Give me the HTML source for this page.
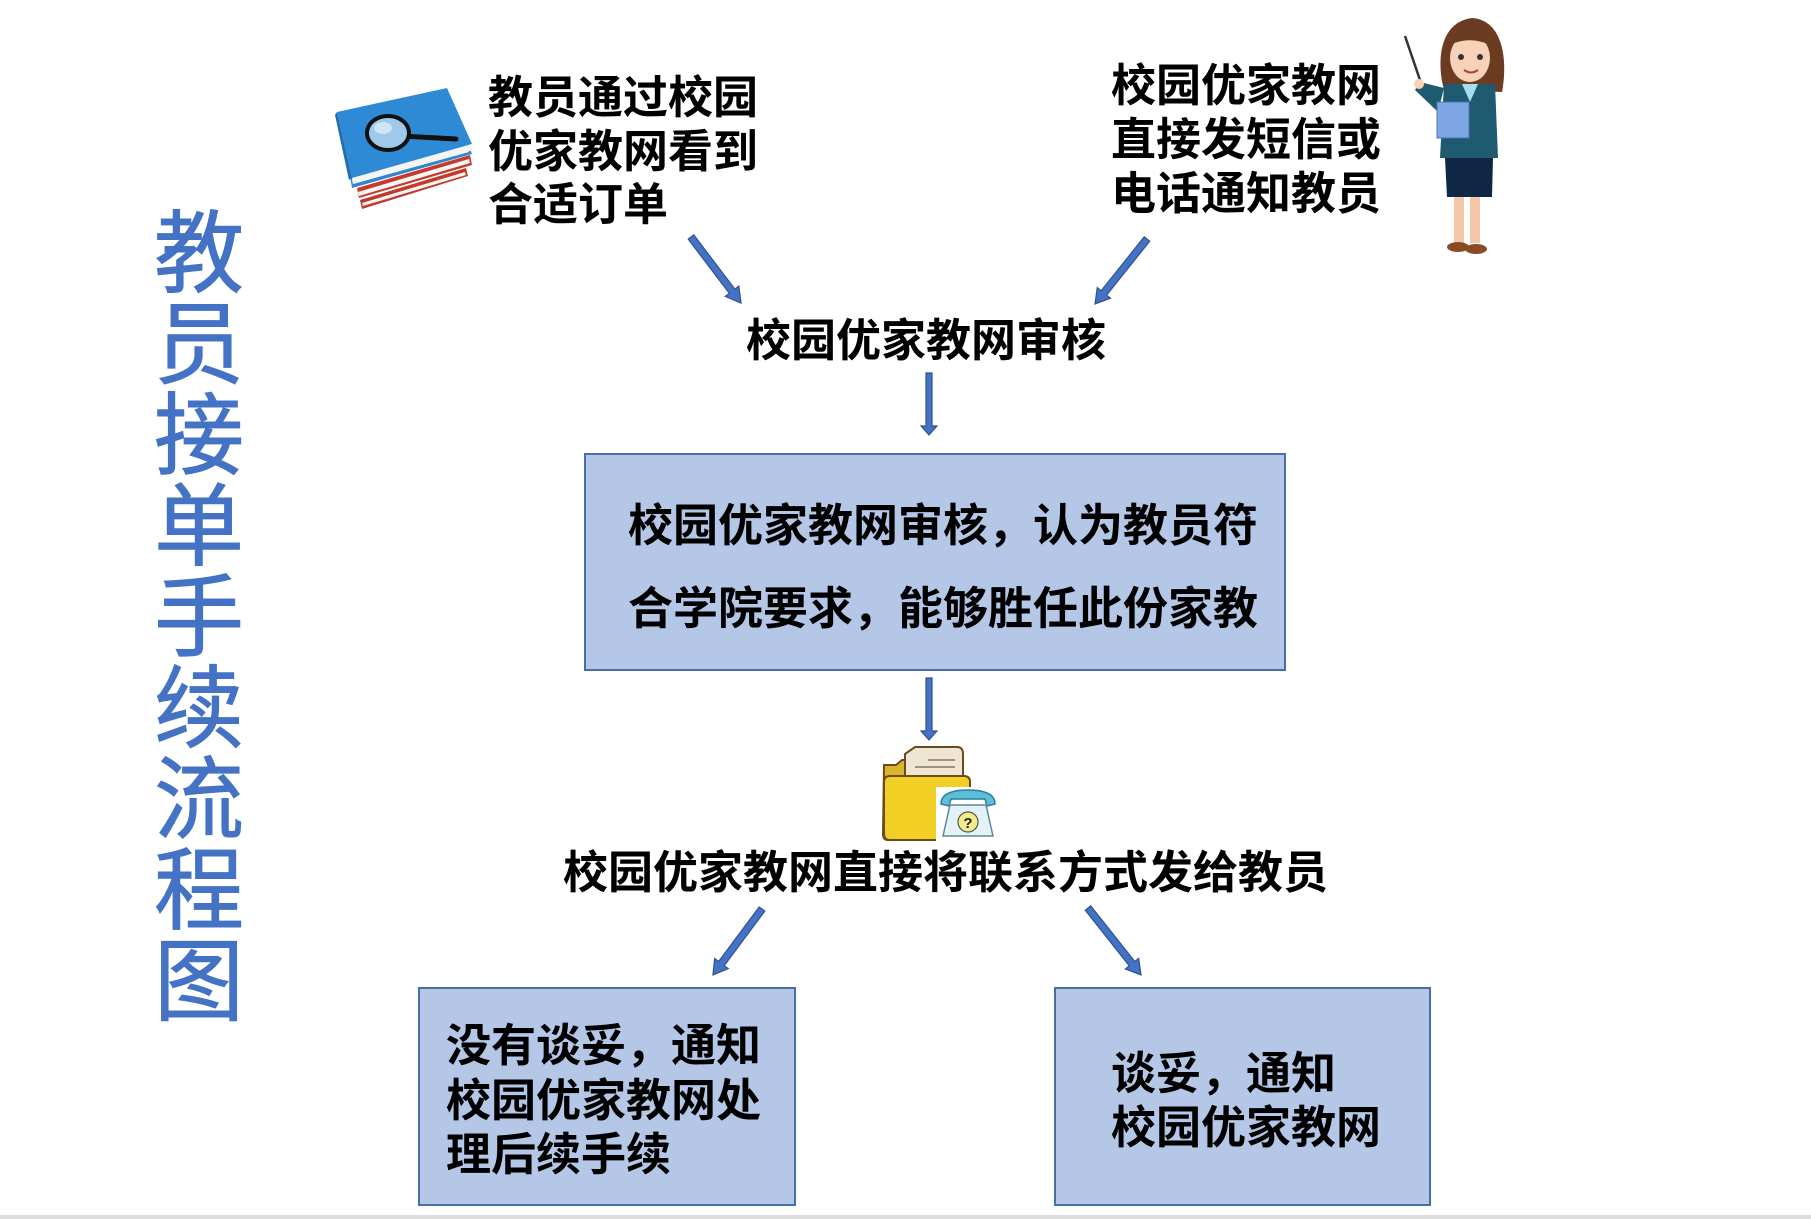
<!DOCTYPE html>
<html>
<head>
<meta charset="utf-8">
<style>
  html, body { margin:0; padding:0; background:#ffffff; }
  body { width:1811px; height:1219px; position:relative; overflow:hidden; }
  .t { position:absolute; white-space:nowrap; color:#000;
       font-family:"Liberation Sans","Noto Sans CJK SC","WenQuanYi Zen Hei",sans-serif;
       font-weight:bold; font-size:45px; line-height:54px; }
  .box { position:absolute; background:#b4c7e7; border:2.5px solid #4a6ea8; box-sizing:border-box; }
  .title { position:absolute; left:153px; top:210px; width:92px; text-align:center;
       color:#4472c4; font-family:"Liberation Sans","Noto Sans CJK SC",sans-serif;
       font-size:90px; line-height:91px; font-weight:normal;
       -webkit-text-stroke:1px #4472c4; }
  svg { position:absolute; left:0; top:0; }
</style>
</head>
<body>

<div class="title">教<br>员<br>接<br>单<br>手<br>续<br>流<br>程<br>图</div>

<div class="box" style="left:584px; top:453px; width:702px; height:218px;"></div>
<div class="box" style="left:418px; top:987px; width:378px; height:219px;"></div>
<div class="box" style="left:1054px; top:987px; width:377px; height:219px;"></div>

<div class="t" style="left:488px; top:71px; line-height:53.5px;">教员通过校园<br>优家教网看到<br>合适订单</div>
<div class="t" style="left:1111px; top:59px;">校园优家教网<br>直接发短信或<br>电话通知教员</div>
<div class="t" style="left:746px; top:314px;">校园优家教网审核</div>
<div class="t" style="left:628px; top:484px; line-height:83px;">校园优家教网审核，认为教员符<br>合学院要求，能够胜任此份家教</div>
<div class="t" style="left:563px; top:846px;">校园优家教网直接将联系方式发给教员</div>
<div class="t" style="left:446px; top:1019px; line-height:54.5px;">没有谈妥，通知<br>校园优家教网处<br>理后续手续</div>
<div class="t" style="left:1111px; top:1047px;">谈妥，通知<br>校园优家教网</div>

<svg width="1811" height="1219" viewBox="0 0 1811 1219" xmlns="http://www.w3.org/2000/svg">
  <!-- arrows -->
  <g fill="#4472c4" stroke="#2f528f" stroke-width="1.2" stroke-linejoin="miter">
    <g transform="translate(691,237) rotate(52.85)">
      <polygon points="0,-3.5 68,-3.5 68,-8.5 82.8,0 68,8.5 68,3.5 0,3.5"/>
    </g>
    <g transform="translate(1147,239) rotate(128.66)">
      <polygon points="0,-3.5 69,-3.5 69,-8.5 83.2,0 69,8.5 69,3.5 0,3.5"/>
    </g>
    <g transform="translate(929,373) rotate(90)">
      <polygon points="0,-3 53,-3 53,-8 62,0 53,8 53,3 0,3"/>
    </g>
    <g transform="translate(929,678) rotate(90)">
      <polygon points="0,-3 53,-3 53,-8 62,0 53,8 53,3 0,3"/>
    </g>
    <g transform="translate(762,909) rotate(126.6)">
      <polygon points="0,-3.5 68,-3.5 68,-8.5 82.2,0 68,8.5 68,3.5 0,3.5"/>
    </g>
    <g transform="translate(1088,908) rotate(51.66)">
      <polygon points="0,-3.5 71,-3.5 71,-8.5 85.4,0 71,8.5 71,3.5 0,3.5"/>
    </g>
  </g>

  <!-- book stack icon -->
  <g>
    <polygon points="360,200 466,168 468,176 362,209" fill="#c0392b"/>
    <polygon points="362,203 465,172 466,175 363,206" fill="#f4f4f4"/>
    <polygon points="357,188 470,155 472,165 359,198" fill="#c63a2e"/>
    <polygon points="358,192 469,159 470,163 359,196" fill="#f6f6f6"/>
    <polygon points="350,176 468,144 472,154 352,188" fill="#2f86cf"/>
    <polygon points="352,180 467,148 469,152 353,184" fill="#f8f8f8"/>
    <polygon points="337,112 447,88 472,144 352,178" fill="#2f8ad6"/>
    <polygon points="352,178 472,144 473,150 353,184" fill="#f5f5f5"/>
    <polygon points="337,112 352,178 349,180 335,115" fill="#1f6eb3"/>
    <line x1="401" y1="136" x2="456" y2="139" stroke="#111" stroke-width="5" stroke-linecap="round"/>
    <ellipse cx="388" cy="133" rx="21" ry="17" fill="#9fc9ea" stroke="#111" stroke-width="4"/>
    <ellipse cx="383" cy="128" rx="9" ry="6" fill="#cfe6f7"/>
  </g>

  <!-- teacher -->
  <g>
    <line x1="1405" y1="36" x2="1421" y2="83" stroke="#333" stroke-width="2.5"/>
    <path d="M1444,90 C1436,60 1440,22 1472,18 C1503,20 1508,60 1502,92 Z" fill="#6b3b22"/>
    <ellipse cx="1470" cy="58" rx="20" ry="24" fill="#f6d2b8"/>
    <path d="M1448,46 C1455,28 1488,26 1495,48 C1480,38 1462,38 1448,46 Z" fill="#6b3b22"/>
    <circle cx="1461" cy="57" r="3" fill="#333"/>
    <circle cx="1480" cy="57" r="3" fill="#333"/>
    <path d="M1464,70 Q1471,75 1478,70" stroke="#b0413e" stroke-width="2" fill="none"/>
    <path d="M1444,84 L1495,84 L1498,158 L1440,158 Z" fill="#1e5b70"/>
    <path d="M1462,84 L1478,84 L1470,102 Z" fill="#a9dcef"/>
    <path d="M1444,88 L1420,82 L1415,90 L1438,112 Z" fill="#1e5b70"/>
    <circle cx="1419" cy="84" r="5" fill="#f6d2b8"/>
    <rect x="1437" y="102" width="32" height="36" fill="#7ea6e3" stroke="#4c73b8" stroke-width="1"/>
    <path d="M1445,158 L1493,158 L1492,197 L1447,197 Z" fill="#0f2745"/>
    <rect x="1454" y="197" width="10" height="46" fill="#f4c7a8"/>
    <rect x="1470" y="197" width="10" height="46" fill="#f4c7a8"/>
    <ellipse cx="1458" cy="247" rx="11" ry="5" fill="#8a4a22"/>
    <ellipse cx="1476" cy="249" rx="11" ry="5" fill="#8a4a22"/>
  </g>

  <!-- folder icon -->
  <g>
    <path d="M884,765 L896,765 L902,760 L912,760 L912,840 L888,840 Q883,840 883,834 Z" fill="#d8b62c" stroke="#6b4a1e" stroke-width="2"/>
    <path d="M905,754 L915,747 L957,747 Q963,747 963,754 L963,800 L905,800 Z" fill="#efe5d3" stroke="#6b4a1e" stroke-width="2"/>
    <line x1="928" y1="760" x2="955" y2="760" stroke="#8a7560" stroke-width="1.5"/>
    <line x1="915" y1="767" x2="955" y2="767" stroke="#8a7560" stroke-width="1.5"/>
    <path d="M884,782 Q884,776 890,776 L964,776 Q970,776 970,782 L970,834 Q970,840 964,840 L890,840 Q884,840 884,834 Z" fill="#f2cf25" stroke="#6b4a1e" stroke-width="2"/>
    <rect x="936" y="787" width="64" height="55" fill="#ffffff"/>
    <path d="M941,804 Q941,790 968,790 Q995,790 995,804 L987,806 L985,799 L951,799 L949,806 Z" fill="#5bbfdc" stroke="#2d7f99" stroke-width="1.5"/>
    <path d="M950,805 L986,805 L993,836 L943,836 Z" fill="#e3f2f6" stroke="#5a8a99" stroke-width="1.5"/>
    <circle cx="968" cy="822" r="10" fill="#f2ec8a" stroke="#555" stroke-width="1.2"/>
    <text x="968" y="828" font-family="Liberation Sans, sans-serif" font-size="15" font-weight="bold" text-anchor="middle" fill="#222">?</text>
  </g>

  <!-- bottom gray bar -->
  <rect x="0" y="1215" width="1811" height="4" fill="#dcdcdc"/>
</svg>

</body>
</html>
